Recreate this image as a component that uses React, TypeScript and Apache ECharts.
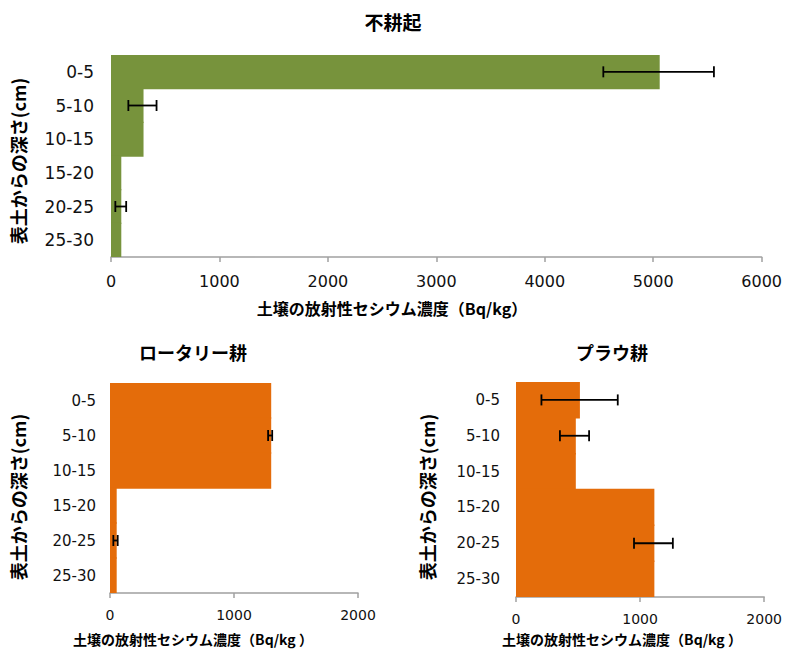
import React, { useEffect, useRef } from "react";
import * as echarts from "echarts";

const depthCategories = ["0-5", "5-10", "10-15", "15-20", "20-25", "25-30"];

const noTillValues = [5060, 300, 300, 95, 95, 95];
const noTillErrLow = [4540, 160, null, null, 40, null];
const noTillErrHigh = [5560, 420, null, null, 140, null];

const rotaryValues = [1300, 1300, 1300, 54, 54, 54];
const rotaryErrLow = [null, 1275, null, null, 27, null];
const rotaryErrHigh = [null, 1308, null, null, 62, null];

const plowValues = [515, 482, 482, 1115, 1115, 1115];
const plowErrLow = [205, 354, null, null, 951, null];
const plowErrHigh = [820, 589, null, null, 1264, null];

const titles = ["不耕起", "ロータリー耕", "プラウ耕"];
const yAxisName = "表土からの深さ(cm)";
const xAxisNameTop = "土壌の放射性セシウム濃度（Bq/kg）";
const xAxisNameBottom = "土壌の放射性セシウム濃度（Bq/kg ）";

const FONT = "'Noto Sans CJK JP', 'Noto Sans', sans-serif";
const TICK_FONT = "'DejaVu Sans', 'Noto Sans', sans-serif";
const GREEN = "#77933C";
const ORANGE = "#E46C0A";

function errData(low: (number | null)[], high: (number | null)[]) {
  const out: number[][] = [];
  low.forEach((l, i) => {
    const h = high[i];
    if (l != null && h != null) out.push([l, i, h]);
  });
  return out;
}

const renderErr = (capH: number) => (params: any, api: any) => {
  const idx = api.value(1);
  const lo = api.coord([api.value(0), idx]);
  const hi = api.coord([api.value(2), idx]);
  const style = { stroke: "#000", lineWidth: 1.8 };
  return {
    type: "group",
    children: [
      { type: "line", shape: { x1: lo[0], y1: lo[1], x2: hi[0], y2: hi[1] }, style },
      { type: "line", shape: { x1: lo[0], y1: lo[1] - capH, x2: lo[0], y2: lo[1] + capH }, style },
      { type: "line", shape: { x1: hi[0], y1: hi[1] - capH, x2: hi[0], y2: hi[1] + capH }, style },
    ],
  };
};

export default function App() {
  const ref = useRef<HTMLDivElement>(null);
  useEffect(() => {
    if (!ref.current) return;
    const chart = echarts.init(ref.current, undefined, { renderer: "svg" });

    const xAxisBase = (max: number, fs: number, gi: number, margin: number) => ({
      type: "value",
      gridIndex: gi,
      min: 0,
      max,
      interval: 1000,
      axisLine: { show: true, lineStyle: { color: "#A0A0A0", width: 1.5 } },
      axisTick: { show: true, length: 5, lineStyle: { color: "#A0A0A0", width: 1.5 } },
      splitLine: { show: false },
      axisLabel: {
        fontFamily: TICK_FONT,
        fontSize: fs,
        color: "#111",
        margin,
        formatter: (v: number) => String(v),
      },
    });
    const yAxisBase = (fs: number, gi: number, margin: number) => ({
      type: "category",
      gridIndex: gi,
      data: depthCategories,
      inverse: true,
      axisLine: { show: false },
      axisTick: { show: false },
      axisLabel: { fontFamily: TICK_FONT, fontSize: fs, color: "#111", margin },
    });

    const textEl = (text: string, x: number, y: number, fs: number, rot = 0) => ({
      type: "text",
      x,
      y,
      rotation: rot,
      style: {
        text,
        fontFamily: FONT,
        fontSize: fs,
        fontWeight: "bold",
        fill: "#000",
        align: "center",
        verticalAlign: "middle",
      },
    });

    const barSeries = (data: number[], idx: number, color: string) => ({
      type: "bar",
      xAxisIndex: idx,
      yAxisIndex: idx,
      data,
      barWidth: "104%",
      itemStyle: { color },
    });

    const errSeries = (low: (number | null)[], high: (number | null)[], idx: number) => ({
      type: "custom",
      xAxisIndex: idx,
      yAxisIndex: idx,
      z: 5,
      data: errData(low, high),
      encode: { x: [0, 2], y: 1 },
      renderItem: renderErr(5.5),
    });

    chart.setOption({
      animation: false,
      backgroundColor: "#fff",
      grid: [
        { left: 111, top: 55, width: 655, height: 202 },
        { left: 110, top: 383, width: 248, height: 210 },
        { left: 516, top: 382, width: 260, height: 215 },
      ],
      xAxis: [
        xAxisBase(6000, 16, 0, 16),
        xAxisBase(2000, 14, 1, 15),
        xAxisBase(2000, 14, 2, 15),
      ],
      yAxis: [yAxisBase(17, 0, 17), yAxisBase(15, 1, 14), yAxisBase(15, 2, 16)],
      graphic: [
        textEl(titles[0], 393, 21, 19),
        textEl(titles[1], 193, 352, 18),
        textEl(titles[2], 612, 352, 18),
        textEl(yAxisName, 18, 161, 18, Math.PI / 2),
        textEl(yAxisName, 18, 497, 18, Math.PI / 2),
        textEl(yAxisName, 427, 497, 18, Math.PI / 2),
        textEl(xAxisNameTop, 392, 308, 16),
        textEl(xAxisNameBottom, 193, 639, 14),
        textEl(xAxisNameBottom, 622, 639, 14),
      ],
      series: [
        barSeries(noTillValues, 0, GREEN),
        barSeries(rotaryValues, 1, ORANGE),
        barSeries(plowValues, 2, ORANGE),
        errSeries(noTillErrLow, noTillErrHigh, 0),
        errSeries(rotaryErrLow, rotaryErrHigh, 1),
        errSeries(plowErrLow, plowErrHigh, 2),
      ],
    });
    return () => chart.dispose();
  }, []);
  return (
    <div
      ref={ref}
      style={{ position: "fixed", left: 0, top: 0, width: 785, height: 650, background: "#fff" }}
    />
  );
}
